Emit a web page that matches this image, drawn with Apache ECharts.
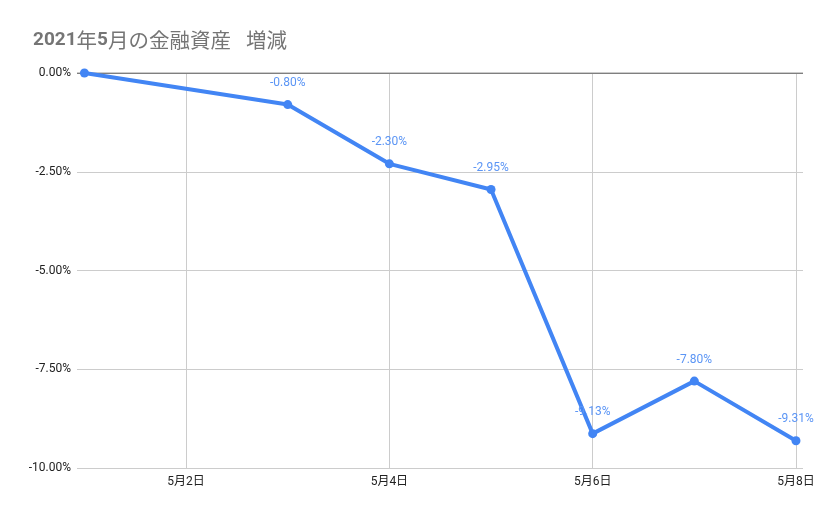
<!DOCTYPE html>
<html><head><meta charset="utf-8">
<script src="https://cdn.jsdelivr.net/npm/echarts@6/dist/echarts.min.js"></script>
<style>html,body{margin:0;padding:0;background:#fff}#c{width:829px;height:514px}</style>
</head><body><div id="c"></div>
<script>
const titleText = '2021年5月の金融資産  増減';
const days = [1, 3, 4, 5, 6, 7, 8];
const values = [0, -0.80, -2.30, -2.95, -9.13, -7.80, -9.31];
const showLabel = [false, true, true, true, true, true, true];
const xTickDays = [2, 4, 6, 8];

const chart = echarts.init(document.getElementById('c'));
const font = 'Roboto, "Noto Sans CJK JP", sans-serif';
const richTitle = titleText.replace(/(\d+)|( +)|([^\d ]+)/g, (m, d, s, c) =>
  d ? '{d|' + d + '}' : (s ? '{s|' + s + '}' : '{c|' + c + '}'));
chart.setOption({
  animation: false,
  title: {
    text: richTitle, left: 28, top: 23,
    textStyle: {
      rich: {
        d: { fontFamily: 'Roboto, Arial, sans-serif', fontSize: 19, fontWeight: 'bold', color: '#757575', lineHeight: 24 },
        c: { fontFamily: '"Noto Sans CJK JP", sans-serif', fontSize: 20.5, fontWeight: 'normal', color: '#757575', lineHeight: 24 },
        s: { fontSize: 20, width: 15, lineHeight: 24 }
      }
    }
  },
  grid: { left: 77, right: 26, top: 73, bottom: 46, containLabel: false },
  xAxis: {
    type: 'value', min: 0.927, max: 8.069,
    axisLine: { show: false },
    axisTick: { show: false, customValues: xTickDays },
    axisLabel: {
      customValues: xTickDays, margin: 8,
      fontFamily: font, fontSize: 12, color: '#222',
      formatter: v => '5月' + v + '日'
    },
    splitLine: { show: true, lineStyle: { color: '#cccccc', width: 1 } }
  },
  yAxis: {
    type: 'value', min: -10, max: 0, interval: 2.5,
    axisLine: { show: false },
    axisTick: { show: false },
    axisLabel: {
      margin: 6, fontFamily: font, fontSize: 12, color: '#222',
      formatter: v => v.toFixed(2) + '%'
    },
    splitLine: { lineStyle: { color: '#cccccc', width: 1 } }
  },
  series: [{
    type: 'line',
    data: days.map((d, i) => ({
      value: [d, values[i]],
      label: { show: showLabel[i] }
    })),
    lineStyle: { color: '#4285F4', width: 4 },
    itemStyle: { color: '#4285F4' },
    symbol: 'circle', symbolSize: 9,
    label: {
      position: 'top', distance: 11,
      fontFamily: font, fontSize: 12, color: '#5b95f5',
      formatter: p => p.value[1].toFixed(2) + '%'
    },
    z: 3
  }, {
    type: 'line',
    data: [[0.927, 0], [8.069, 0]],
    symbol: 'none', silent: true,
    lineStyle: { color: '#333', width: 1 }, z: 2
  }]
});
</script></body></html>
